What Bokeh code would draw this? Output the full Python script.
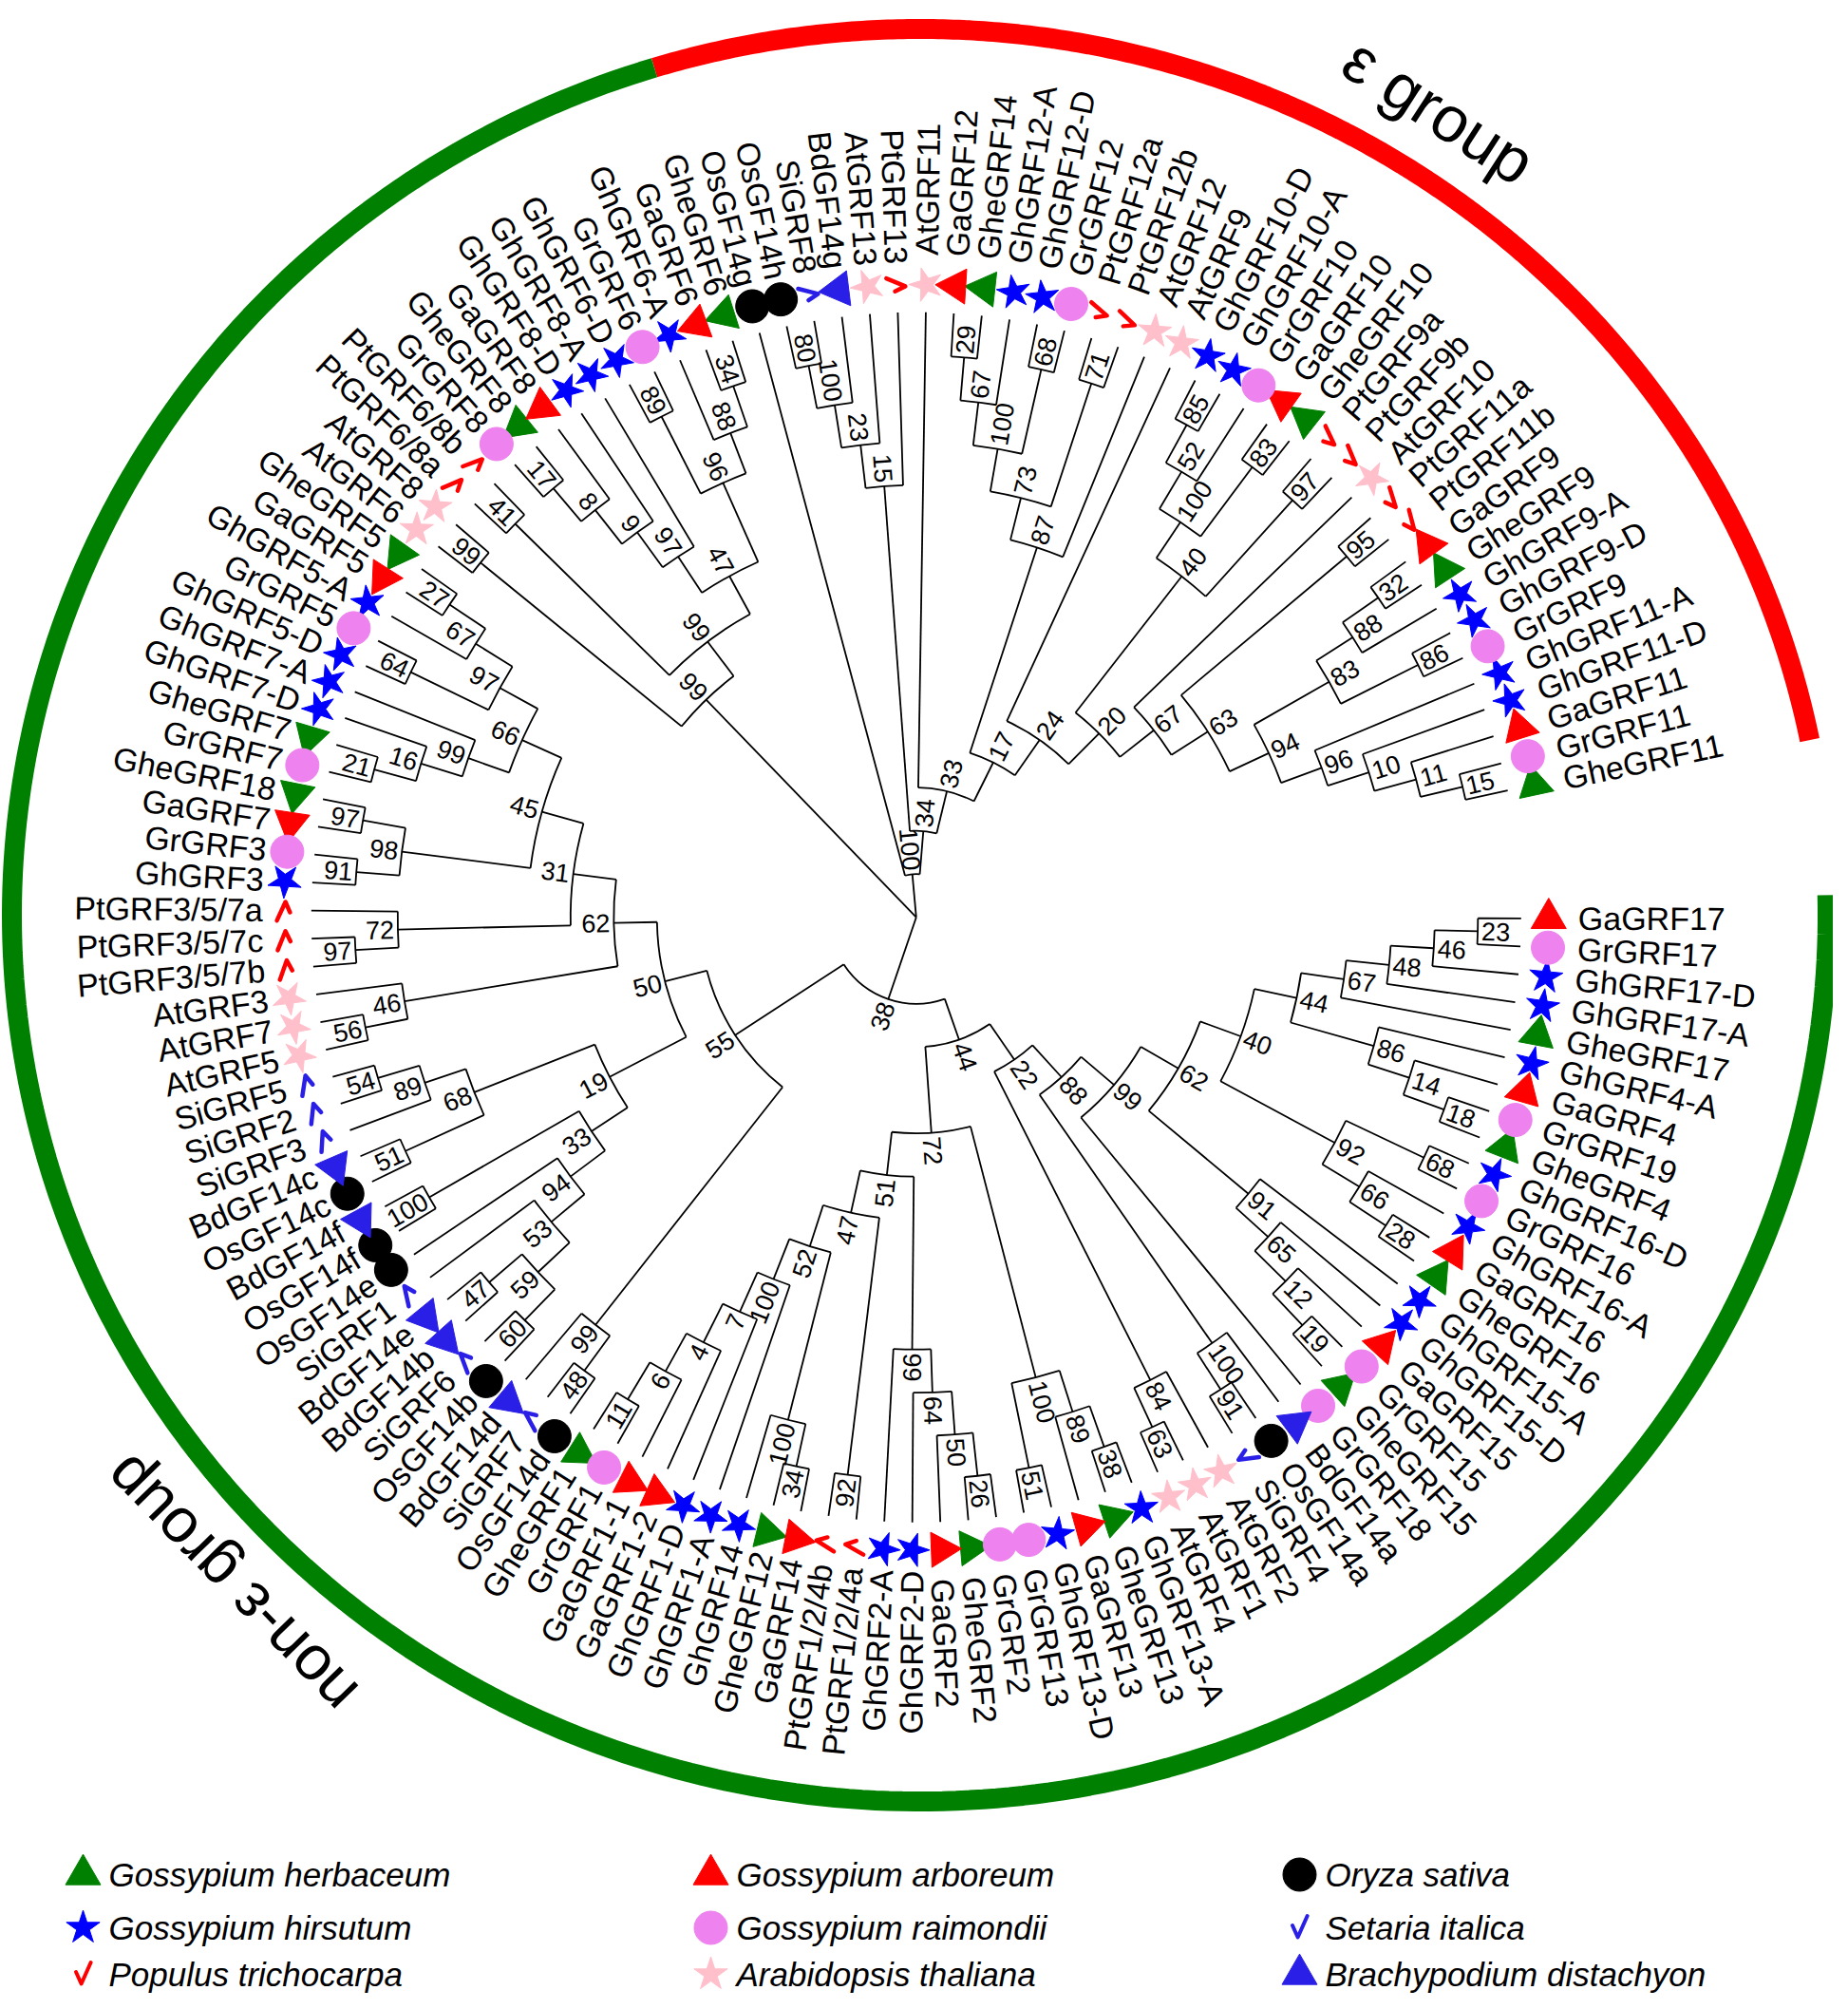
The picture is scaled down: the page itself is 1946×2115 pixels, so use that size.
import math
from bokeh.plotting import figure
from bokeh.models import Range1d
from bokeh.core.properties import value
from bokeh.embed import file_html
from bokeh.resources import INLINE

# ------------------------------------------------------------------ data
# leaves in clockwise order, starting at 3 o'clock
leaves_a = ["GaGRF17", "GrGRF17", "GhGRF17-D", "GhGRF17-A", "GheGRF17", "GhGRF4-A", "GaGRF4",
            "GrGRF19", "GheGRF4", "GhGRF16-D", "GrGRF16", "GhGRF16-A", "GaGRF16", "GheGRF16",
            "GhGRF15-A", "GhGRF15-D", "GaGRF15", "GrGRF15", "GheGRF15", "GrGRF18", "BdGF14a",
            "OsGF14a", "SiGRF4", "AtGRF2", "AtGRF1", "AtGRF4"]
leaves_b = ["GhGRF13-A", "GheGRF13", "GaGRF13", "GhGRF13-D", "GrGRF13", "GrGRF2", "GheGRF2",
            "GaGRF2", "GhGRF2-D", "GhGRF2-A", "PtGRF1/2/4a", "PtGRF1/2/4b", "GaGRF14", "GheGRF12",
            "GhGRF14", "GhGRF1-A", "GhGRF1-D", "GaGRF1-2", "GaGRF1-1", "GrGRF1", "GheGRF1"]
leaves_c = ["OsGF14d", "SiGRF7", "BdGF14d", "OsGF14b", "SiGRF6", "BdGF14b", "BdGF14e", "SiGRF1",
            "OsGF14e", "OsGF14f", "BdGF14f", "OsGF14c", "BdGF14c", "SiGRF3", "SiGRF2", "SiGRF5",
            "AtGRF5", "AtGRF7", "AtGRF3", "PtGRF3/5/7b", "PtGRF3/5/7c", "PtGRF3/5/7a", "GhGRF3",
            "GrGRF3", "GaGRF7", "GheGRF18", "GrGRF7", "GheGRF7", "GhGRF7-D", "GhGRF7-A",
            "GhGRF5-D", "GrGRF5", "GhGRF5-A", "GaGRF5", "GheGRF5"]
leaves_d = ["AtGRF6", "AtGRF8", "PtGRF6/8a", "PtGRF6/8b", "GrGRF8", "GheGRF8", "GaGRF8",
            "GhGRF8-D", "GhGRF8-A", "GhGRF6-D", "GrGRF6", "GhGRF6-A", "GaGRF6", "GheGRF6", "OsGF14g"]
leaves_e = ["OsGF14h", "SiGRF8", "BdGF14g", "AtGRF13", "PtGRF13", "AtGRF11", "GaGRF12", "GheGRF14",
            "GhGRF12-A", "GhGRF12-D", "GrGRF12", "PtGRF12a", "PtGRF12b", "AtGRF12", "AtGRF9",
            "GhGRF10-D", "GhGRF10-A", "GrGRF10", "GaGRF10", "GheGRF10", "PtGRF9a", "PtGRF9b",
            "AtGRF10", "PtGRF11a", "PtGRF11b", "GaGRF9", "GheGRF9", "GhGRF9-A", "GhGRF9-D",
            "GrGRF9", "GhGRF11-A", "GhGRF11-D", "GaGRF11", "GrGRF11", "GheGRF11"]

# internal nodes: (id, child, child, bootstrap)
nodes_right = [
    ("N23", "GaGRF17", "GrGRF17", 23), ("N46", "N23", "GhGRF17-D", 46), ("N48", "N46", "GhGRF17-A", 48),
    ("N67", "N48", "GheGRF17", 67), ("N18", "GrGRF19", "GheGRF4", 18), ("N14", "GaGRF4", "N18", 14),
    ("N86", "GhGRF4-A", "N14", 86), ("N44a", "N67", "N86", 44), ("N68", "GhGRF16-D", "GrGRF16", 68),
    ("N28", "GaGRF16", "GheGRF16", 28), ("N66", "GhGRF16-A", "N28", 66), ("N92", "N68", "N66", 92),
    ("N40", "N44a", "N92", 40), ("N19", "GrGRF15", "GheGRF15", 19), ("N12", "GaGRF15", "N19", 12),
    ("N65", "GhGRF15-D", "N12", 65), ("N91", "GhGRF15-A", "N65", 91), ("N62", "N40", "N91", 62),
    ("N99", "N62", "GrGRF18", 99), ("N91b", "OsGF14a", "SiGRF4", 91), ("N100b", "BdGF14a", "N91b", 100),
    ("N88", "N99", "N100b", 88), ("N63", "AtGRF1", "AtGRF4", 63), ("N84", "AtGRF2", "N63", 84),
    ("N22", "N88", "N84", 22)]
nodes_bottom = [
    ("N38b", "GhGRF13-A", "GheGRF13", 38), ("N89", "N38b", "GaGRF13", 89), ("N51", "GhGRF13-D", "GrGRF13", 51),
    ("N100c", "N89", "N51", 100), ("N26", "GrGRF2", "GheGRF2", 26), ("N50", "N26", "GaGRF2", 50),
    ("N64", "N50", "GhGRF2-D", 64), ("N66b", "N64", "GhGRF2-A", 66), ("N92b", "PtGRF1/2/4a", "PtGRF1/2/4b", 92),
    ("N34", "GaGRF14", "GheGRF12", 34), ("N100d", "N34", "GhGRF14", 100), ("N11", "GrGRF1", "GheGRF1", 11),
    ("N6", "GaGRF1-1", "N11", 6), ("N4", "GaGRF1-2", "N6", 4), ("N7", "GhGRF1-D", "N4", 7),
    ("N100e", "GhGRF1-A", "N7", 100), ("N52", "N100d", "N100e", 52), ("N47", "N92b", "N52", 47),
    ("N51b", "N66b", "N47", 51), ("N72", "N100c", "N51b", 72), ("N44", "N22", "N72", 44)]
nodes_left = [
    ("N48b", "OsGF14d", "SiGRF7", 48), ("N99c", "N48b", "BdGF14d", 99), ("N60", "OsGF14b", "SiGRF6", 60),
    ("N47b", "BdGF14b", "BdGF14e", 47), ("N59", "N60", "N47b", 59), ("N53", "N59", "SiGRF1", 53),
    ("N94", "N53", "OsGF14e", 94), ("N100f", "OsGF14f", "BdGF14f", 100), ("N33", "N94", "N100f", 33),
    ("N51c", "OsGF14c", "BdGF14c", 51), ("N54", "SiGRF2", "SiGRF5", 54), ("N89b", "SiGRF3", "N54", 89),
    ("N68b", "N51c", "N89b", 68), ("N19b", "N33", "N68b", 19), ("N56", "AtGRF5", "AtGRF7", 56),
    ("N46b", "N56", "AtGRF3", 46), ("N97", "PtGRF3/5/7b", "PtGRF3/5/7c", 97), ("N72b", "N97", "PtGRF3/5/7a", 72),
    ("N91c", "GhGRF3", "GrGRF3", 91), ("N97b", "GaGRF7", "GheGRF18", 97), ("N98", "N91c", "N97b", 98),
    ("N21", "GrGRF7", "GheGRF7", 21), ("N16", "N21", "GhGRF7-D", 16), ("N99d", "N16", "GhGRF7-A", 99),
    ("N64b", "GhGRF5-D", "GrGRF5", 64), ("N27", "GaGRF5", "GheGRF5", 27), ("N67b", "GhGRF5-A", "N27", 67),
    ("N97c", "N64b", "N67b", 97), ("N66c", "N99d", "N97c", 66), ("N45", "N98", "N66c", 45),
    ("N31", "N72b", "N45", 31), ("N62b", "N46b", "N31", 62), ("N50b", "N19b", "N62b", 50),
    ("N55", "N99c", "N50b", 55), ("N38", "N44", "N55", 38)]
nodes_upper_left = [
    ("N99e", "AtGRF6", "AtGRF8", 99), ("N41", "PtGRF6/8a", "PtGRF6/8b", 41), ("N17", "GrGRF8", "GheGRF8", 17),
    ("N8", "N17", "GaGRF8", 8), ("N9", "N8", "GhGRF8-D", 9), ("N97d", "N9", "GhGRF8-A", 97),
    ("N89c", "GhGRF6-D", "GrGRF6", 89), ("N34b", "GaGRF6", "GheGRF6", 34), ("N88b", "GhGRF6-A", "N34b", 88),
    ("N96", "N89c", "N88b", 96), ("N47c", "N97d", "N96", 47), ("N99f", "N41", "N47c", 99),
    ("N99g", "N99e", "N99f", 99)]
nodes_eps = [
    ("N80", "OsGF14h", "SiGRF8", 80), ("N100g", "N80", "BdGF14g", 100), ("N23b", "N100g", "AtGRF13", 23),
    ("N15", "N23b", "PtGRF13", 15), ("N29", "GaGRF12", "GheGRF14", 29), ("N67c", "N29", "GhGRF12-A", 67),
    ("N68c", "GhGRF12-D", "GrGRF12", 68), ("N100h", "N67c", "N68c", 100), ("N71", "PtGRF12a", "PtGRF12b", 71),
    ("N73", "N100h", "N71", 73), ("N87", "N73", "AtGRF12", 87), ("N85", "GhGRF10-D", "GhGRF10-A", 85),
    ("N52b", "N85", "GrGRF10", 52), ("N83c", "GaGRF10", "GheGRF10", 83), ("N100i", "N52b", "N83c", 100),
    ("N97e", "PtGRF9a", "PtGRF9b", 97), ("N40b", "N100i", "N97e", 40), ("N95", "PtGRF11a", "PtGRF11b", 95),
    ("N32", "GaGRF9", "GheGRF9", 32), ("N88c", "N32", "GhGRF9-A", 88), ("N86b", "GhGRF9-D", "GrGRF9", 86),
    ("N83b", "N88c", "N86b", 83), ("N15b", "GrGRF11", "GheGRF11", 15), ("N11b", "GaGRF11", "N15b", 11),
    ("N10", "GhGRF11-D", "N11b", 10), ("N96b", "GhGRF11-A", "N10", 96), ("N94b", "N83b", "N96b", 94),
    ("N63b", "N95", "N94b", 63), ("N67d", "AtGRF10", "N63b", 67), ("N20", "N40b", "N67d", 20),
    ("N24", "AtGRF9", "N20", 24), ("N17b", "N87", "N24", 17), ("N33b", "AtGRF11", "N17b", 33),
    ("N34c", "N15", "N33b", 34), ("Nc", "OsGF14g", "N34c", 100)]
root_children = ["N38", "N99g", "Nc"]

species_names = ["Gossypium herbaceum", "Gossypium arboreum", "Oryza sativa",
                 "Gossypium hirsutum", "Gossypium raimondii", "Setaria italica",
                 "Populus trichocarpa", "Arabidopsis thaliana", "Brachypodium distachyon"]
species_prefix = ["Ghe", "Ga", "Os", "Gh", "Gr", "Si", "Pt", "At", "Bd"]
species_marker = ["triangle", "triangle", "circle", "star", "circle", "check", "check", "star", "triangle"]
species_color = ["#008000", "#FF0000", "#000000", "#0000FF", "#EE82EE", "#2a1fe6", "#FF0000", "#FFC0CB", "#2a1fe6"]

# ------------------------------------------------------------------ layout
W, H = 1930, 2099
CX, CY = 972.3, 2115 - 973.2
R_LEAF, STEP = 637.0, 45.5
R_MARK = 666.0
R_LAB_R, R_LAB_L = 697.0, 688.0
A0, DA = -0.1, 2.655
FONT = value("Liberation Sans")

leaves = leaves_a + leaves_b + leaves_c + leaves_d + leaves_e
ang = {n: A0 - i * DA for i, n in enumerate(leaves)}
children, boot = {}, {}
for grp in (nodes_right, nodes_bottom, nodes_left, nodes_upper_left, nodes_eps):
    for nid, c1, c2, bs in grp:
        children[nid] = [c1, c2]
        boot[nid] = bs
children["ROOT"] = root_children

height = {}
def calc(n):
    if n not in children:
        height[n] = 0
        return ang[n]
    a = [calc(c) for c in children[n]]
    height[n] = max(height[c] for c in children[n]) + 1
    ang[n] = sum(a) / len(a)
    return ang[n]
calc("ROOT")

def rad(n):
    if n == "ROOT":
        return 0.0
    return R_LEAF - STEP * height[n] if n in children else R_LEAF

def pol(r, deg):
    t = math.radians(deg)
    return CX + r * math.cos(t), CY + r * math.sin(t)

p = figure(width=W, height=H, x_range=Range1d(8, 8 + W), y_range=Range1d(2115 - 8 - H, 2115 - 8),
           output_backend="svg", toolbar_location=None, min_border=0)
p.axis.visible = False
p.grid.visible = False
p.outline_line_color = None
p.background_fill_color = "white"
p.border_fill_color = "white"

# ------------------------------------------------------------------ branches
xs, ys = [], []
arc_r, arc_s, arc_e = [], [], []
for n, ch in children.items():
    rn = rad(n)
    cang = [ang[c] for c in ch]
    if rn > 0:
        arc_r.append(rn)
        arc_s.append(math.radians(min(cang)))
        arc_e.append(math.radians(max(cang)))
    for c in ch:
        x0, y0 = pol(rn, ang[c])
        x1, y1 = pol(rad(c), ang[c])
        xs.append([x0, x1])
        ys.append([y0, y1])
p.multi_line(xs, ys, line_color="black", line_width=1.8)
p.arc(x=[CX] * len(arc_r), y=[CY] * len(arc_r), radius=arc_r, start_angle=arc_s, end_angle=arc_e,
      direction="anticlock", line_color="black", line_width=1.8)

# ------------------------------------------------------------------ bootstrap values
BS_FS = 27
bx, by, bt, ba = [], [], [], []
for n, bs in boot.items():
    s = str(bs)
    L = len(s) * 0.556 * BS_FS
    r = rad(n) + 4 + L / 2
    x, y = pol(r, ang[n])
    a = ang[n]
    rot = a if math.cos(math.radians(a)) >= 0 else a + 180
    bx.append(x); by.append(y); bt.append(s); ba.append(math.radians(rot))
p.text(bx, by, text=bt, angle=ba, text_font=FONT, text_font_size=f"{BS_FS}px",
       text_align="center", text_baseline="middle", text_color="black")

# ------------------------------------------------------------------ leaf labels
for side in ("R", "L"):
    lx, ly, lt, la = [], [], [], []
    for n in leaves:
        a = ang[n]
        right = math.cos(math.radians(a)) >= 0
        if (side == "R") != right:
            continue
        x, y = pol(R_LAB_R if right else R_LAB_L, a)
        lx.append(x); ly.append(y); lt.append(n)
        la.append(math.radians(a if right else a + 180))
    p.text(lx, ly, text=lt, angle=la, text_font=FONT, text_font_size="34px",
           text_align="left" if side == "R" else "right", text_baseline="middle", text_color="black")

# ------------------------------------------------------------------ leaf markers
def species_of(name):
    for i, pre in enumerate(species_prefix):
        if name.startswith(pre):
            return i
    return 0

CHECK = [(-6.0, 2.0), (-1.5, -8.0), (6.5, 10.0)]
def check_pts(x, y, deg, k=1.0):
    t = math.radians(deg)
    c, s = math.cos(t), math.sin(t)
    return ([x + k * (u * c - v * s) for u, v in CHECK], [y + k * (u * s + v * c) for u, v in CHECK])

sizes = {"triangle": 37, "star": 37, "circle": 35}
for i in range(len(species_names)):
    mk = species_marker[i]
    sel = [n for n in leaves if species_of(n) == i]
    pts = [pol(R_MARK, ang[n]) for n in sel]
    if mk == "check":
        cxs, cys = [], []
        for (x, y), n in zip(pts, sel):
            a, b = check_pts(x, y, ang[n], 1.1)
            cxs.append(a); cys.append(b)
        p.multi_line(cxs, cys, line_color=species_color[i], line_width=4.5, line_join="round",
                     line_cap="round")
    else:
        p.scatter([q[0] for q in pts], [q[1] for q in pts], marker=mk, size=sizes[mk],
                  angle=[math.radians(ang[n]) for n in sel],
                  fill_color=species_color[i], line_color=species_color[i], line_width=1)

# ------------------------------------------------------------------ group ring
EX, EY, EA, EB = 976.0, 2115 - 971.0, 956.0, 933.0
def ring(t0, t1, color):
    n = 300
    tt = [math.radians(t0 + (t1 - t0) * k / n) for k in range(n + 1)]
    p.line([EX + EA * math.cos(t) for t in tt], [EY + EB * math.sin(t) for t in tt],
           line_color=color, line_width=21, line_cap="butt")
ring(107.0, 11.4, "#FF0000")
ring(1.3, -253.0, "#008000")

p.text([1523], [2115 - 124], text=["ε group"], angle=[math.radians(-32.9)], text_font=FONT,
       text_font_size="68px", text_align="center", text_baseline="middle")
p.text([250], [2115 - 1676], text=["non-ε group"], angle=[math.radians(134.2)], text_font=FONT,
       text_font_size="66px", text_align="center", text_baseline="middle")

# ------------------------------------------------------------------ legend
col_x = [95, 756, 1376]
row_y = [1981, 2037, 2086]
for i, nm in enumerate(species_names):
    mx = col_x[i % 3]
    my = 2115 - row_y[i // 3]
    mk = species_marker[i]
    if mk == "check":
        a, b = check_pts(mx, my, 0.0, 1.25)
        p.multi_line([a], [b], line_color=species_color[i], line_width=4.0, line_join="round",
                     line_cap="round")
    else:
        p.scatter([mx], [my], marker=mk, size=sizes[mk], fill_color=species_color[i],
                  line_color=species_color[i])
    p.text([mx + 27], [my], text=[nm], text_font=FONT, text_font_size="35px", text_font_style="italic",
           text_align="left", text_baseline="middle")

open("out.html", "w").write(file_html(p, INLINE))
